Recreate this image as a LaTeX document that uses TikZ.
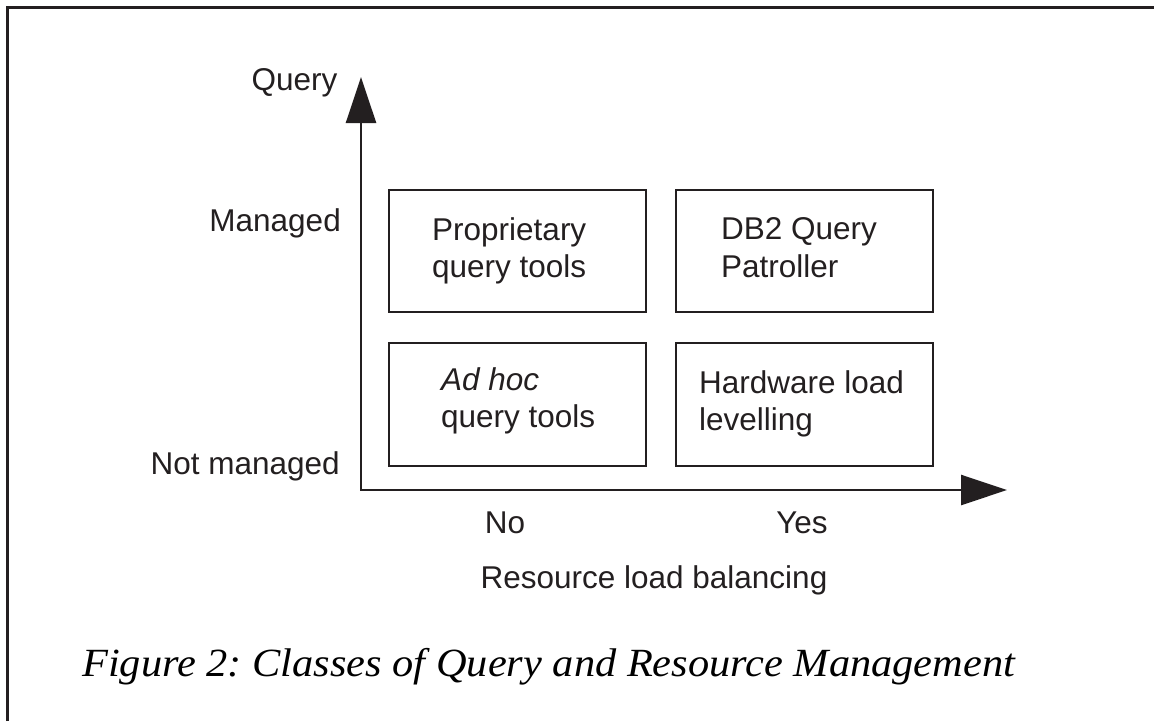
\documentclass[tikz,border=0pt]{standalone}
\usepackage{fontspec}
\usepackage{graphicx}
\setmainfont{Liberation Serif}
\setsansfont{Liberation Sans}
\usetikzlibrary{arrows.meta}
\frenchspacing
\definecolor{ink}{HTML}{231F20}
\tikzset{
  frameline/.style={draw=ink, line width=3pt, line join=miter},
  axisline/.style={draw=ink, line width=2.5pt, line join=miter,
    {Triangle[length=46pt,width=30pt]}-{Triangle[length=46pt,width=30pt]}},
  qbox/.style={draw=ink, line width=2.5pt, rectangle, inner sep=0pt,
    minimum width=257pt},
  boxtext/.style={anchor=north west, inner sep=0pt, align=left, text=ink,
    font=\sffamily\fontsize{31.5}{37.5}\selectfont},
  axislabel/.style={inner sep=0pt, text=ink,
    font=\sffamily\fontsize{31.5}{37.5}\selectfont},
  captiontext/.style={anchor=base west, inner sep=0pt, text=black,
    font=\rmfamily\itshape\fontsize{40}{48}\selectfont}
}
\begin{document}
\begin{tikzpicture}[x=1pt, y=-1pt]
  \useasboundingbox (0,0) rectangle (1154,721);

  % outer frame (top and left edges)
  \coordinate (fbl) at (7.5,721);
  \coordinate (ftl) at (7.5,7.5);
  \coordinate (ftr) at (1154,7.5);
  \draw[frameline] (fbl) -- (ftl) -- (ftr);

  % axes
  \coordinate (origin) at (361,490);
  \coordinate (ytip) at (361,77);
  \coordinate (xtip) at (1007,490);
  \draw[axisline] (ytip) -- (origin) -- (xtip);

  % quadrant boxes
  \node[qbox, minimum height=122pt] (prop) at (517.5,251) {};
  \node[qbox, minimum height=123pt] (adhoc) at (517.5,404.5) {};
  \node[qbox, minimum height=122pt] (db2) at (804.5,251) {};
  \node[qbox, minimum height=123pt] (hw) at (804.5,404.5) {};

  % box contents
  \node[boxtext] (proptext) at (432,217.4) {Proprietary\\query tools};
  \node[boxtext] (adhoctext) at (441,367.4) {\textit{Ad hoc}\\query tools};
  \node[boxtext] (db2text) at (721,217.4) {DB2 Query\\Patroller};
  \node[boxtext] (hwtext) at (699,370.4) {Hardware load\\levelling};

  % axis labels
  \node[axislabel, anchor=base east] (qlabel) at (337.5,90) {Query};
  \node[axislabel, anchor=base east] (managed) at (341,231) {Managed};
  \node[axislabel, anchor=base east] (notmanaged) at (340,474) {Not managed};
  \node[axislabel, anchor=base] (no) at (505,533) {No};
  \node[axislabel, anchor=base] (yes) at (802,533) {Yes};
  \node[axislabel, anchor=base] (rlabel) at (654,588) {Resource load balancing};

  % caption
  \node[captiontext] (caption) at (82,676)
    {\scalebox{1.06}[1]{Figure 2: Classes of Query and Resource Management}};
\end{tikzpicture}
\end{document}
